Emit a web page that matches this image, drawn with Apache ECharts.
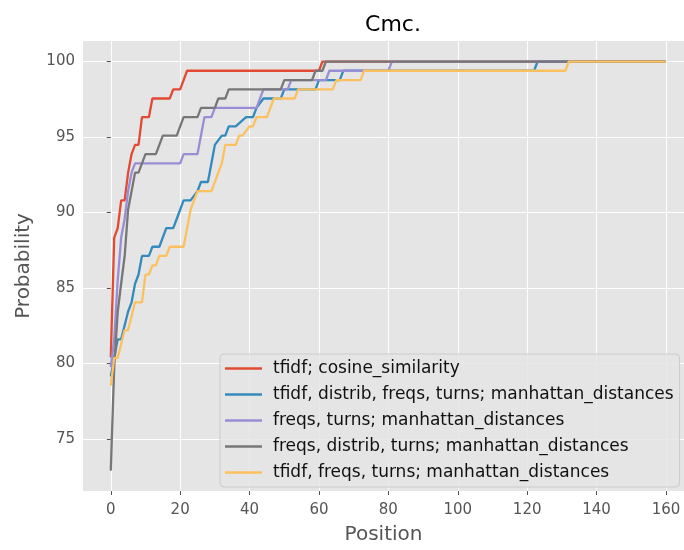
<!DOCTYPE html>
<html>
<head>
<meta charset="utf-8">
<script src="https://cdn.jsdelivr.net/npm/echarts@6/dist/echarts.min.js"></script>
<style>
  body { margin: 0; background: #fff; }
  #main { width: 684px; height: 550px; }
</style>
</head>
<body>
<div id="main"></div>
<script>
// CMC curves, [position, probability] at each bend
var tfidfCosine = [[0,80.4],[1,88.34],[2,88.96],[3,90.8],[4,90.8],[5,92.64],[6,93.87],[7,94.48],[8,94.48],[9,96.32],[11,96.32],[12,97.55],[17,97.55],[18,98.16],[20,98.16],[22,99.39],[60,99.39],[61,100],[160,100]];
var tfidfDistribFreqsTurns = [[0,79.14],[1,80.37],[2,81.6],[3,81.6],[5,83.44],[6,84.05],[7,85.28],[8,85.89],[9,87.12],[11,87.12],[12,87.73],[14,87.73],[16,88.96],[18,88.96],[19,89.57],[21,90.8],[23,90.8],[25,91.41],[26,92.02],[28,92.02],[29,93.25],[30,94.48],[32,95.09],[33,95.09],[34,95.71],[36,95.71],[39,96.32],[41,96.32],[42,96.93],[44,97.55],[49,97.55],[50,98.16],[59,98.16],[60,98.77],[66,98.77],[67,99.39],[122,99.39],[123,100],[160,100]];
var freqsTurns = [[0,79.75],[1,81.6],[2,85.5],[3,88.34],[4,89.57],[5,91.41],[6,92.64],[7,93.25],[20,93.25],[21,93.87],[25,93.87],[27,96.32],[29,96.32],[30,96.93],[42,96.93],[44,98.16],[51,98.16],[52,98.77],[62,98.77],[63,99.39],[80,99.39],[81,100],[160,100]];
var freqsDistribTurns = [[0,72.9],[1,79.8],[2,83.4],[3,85.3],[4,87.1],[5,90.2],[6,91.41],[7,92.64],[8,92.64],[10,93.87],[13,93.87],[14,94.48],[15,95.09],[19,95.09],[20,95.71],[21,96.32],[25,96.32],[26,96.93],[30,96.93],[31,97.55],[33,97.55],[34,98.16],[49,98.16],[50,98.77],[58,98.77],[59,99.39],[61,99.39],[62,100],[160,100]];
var tfidfFreqsTurns = [[0,78.53],[1,80.37],[2,80.37],[4,82.21],[5,82.21],[7,84.05],[9,84.05],[10,85.89],[11,85.89],[12,86.5],[13,86.5],[14,87.12],[16,87.12],[17,87.73],[21,87.73],[23,90.18],[25,91.41],[29,91.41],[32,93.25],[33,94.48],[36,94.48],[37,95.09],[38,95.09],[40,95.71],[41,95.71],[42,96.32],[45,96.32],[47,97.55],[53,97.55],[54,98.16],[64,98.16],[65,98.77],[72,98.77],[73,99.39],[131,99.39],[132,100],[160,100]];

var seriesNames = [
  "tfidf; cosine_similarity",
  "tfidf, distrib, freqs, turns; manhattan_distances",
  "freqs, turns; manhattan_distances",
  "freqs, distrib, turns; manhattan_distances",
  "tfidf, freqs, turns; manhattan_distances"
];
var seriesData = [tfidfCosine, tfidfDistribFreqsTurns, freqsTurns, freqsDistribTurns, tfidfFreqsTurns];
var colors = ["#E24A33", "#348ABD", "#988ED5", "#777777", "#FBC15E"];
var xTicks = [0, 20, 40, 60, 80, 100, 120, 140, 160];
var yTicks = [75, 80, 85, 90, 95, 100];

var chart = echarts.init(document.getElementById("main"));
var font = "DejaVu Sans";

var option = {
  animation: false,
  backgroundColor: "#fff",
  color: colors,
  title: {
    text: "Cmc.",
    left: 388,
    top: 9,
    textAlign: "center",
    textStyle: { fontFamily: font, fontSize: 22, fontWeight: "normal", color: "#000" }
  },
  grid: {
    left: 83, top: 41, right: 0, height: 455,
    show: true, backgroundColor: "#E5E5E5", borderWidth: 0
  },
  legend: {
    orient: "vertical",
    left: 220, top: 354,
    padding: [6, 6, 6, 5],
    icon: "rect",
    itemWidth: 37, itemHeight: 2.5, itemGap: 9,
    backgroundColor: "rgba(229,229,229,0.85)",
    borderColor: "#cccccc", borderWidth: 1, borderRadius: 4,
    textStyle: { fontFamily: font, fontSize: 17, color: "#111", padding: [0, 0, 0, 6] },
    data: seriesNames
  },
  xAxis: {
    type: "value",
    min: -8, max: 165.2,
    name: "Position",
    nameLocation: "middle",
    nameGap: 34,
    nameTextStyle: { fontFamily: font, fontSize: 20, color: "#555" },
    axisLine: { show: false },
    axisTick: { show: true, length: 4, lineStyle: { color: "#555" }, customValues: xTicks },
    axisLabel: { fontFamily: font, fontSize: 15, color: "#555", margin: 12, customValues: xTicks },
    splitLine: { show: true, lineStyle: { color: "#fff", width: 1 } }
  },
  yAxis: {
    type: "value",
    min: 71.55, max: 101.36,
    name: "Probability",
    nameLocation: "middle",
    nameGap: 49,
    nameTextStyle: { fontFamily: font, fontSize: 20, color: "#555" },
    axisLine: { show: false },
    axisTick: { show: true, length: 4, lineStyle: { color: "#555" }, customValues: yTicks },
    axisLabel: { fontFamily: font, fontSize: 15, color: "#555", margin: 8, customValues: yTicks },
    splitLine: { show: true, lineStyle: { color: "#fff", width: 1 } }
  },
  series: seriesNames.map(function (name, i) {
    return {
      name: name,
      type: "line",
      symbol: "none",
      data: seriesData[i],
      lineStyle: { width: 2.3, color: colors[i] },
      itemStyle: { color: colors[i] }
    };
  })
};

chart.setOption(option);
</script>
</body>
</html>
